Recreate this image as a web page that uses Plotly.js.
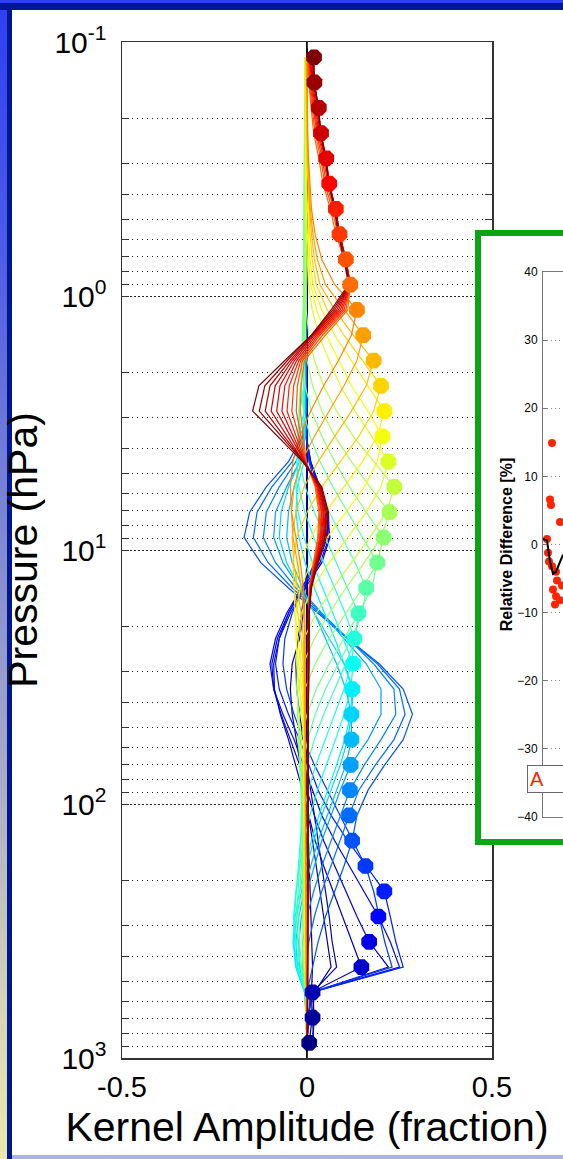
<!DOCTYPE html>
<html>
<head>
<meta charset="utf-8">
<script src="https://cdn.plot.ly/plotly-3.0.1.min.js"></script>
<style>
  html, body { margin: 0; padding: 0; width: 563px; height: 1159px; overflow: hidden; background: #a9b0ec; }
  .band { position: absolute; }
  #topBlue { left: 0; top: 0; width: 563px; height: 4px; background: #2f40f4; }
  #topNavy { left: 0; top: 3px; width: 563px; height: 7px; background: #00188e; }
  #leftStrip { left: 0; top: 0; width: 7px; height: 1159px;
    background: linear-gradient(to bottom, #2e3ef6 0%, #4f5ce6 22%, #7d86d4 45%, #abadc6 68%, #d4d2b8 86%, #ece9ac 100%); }
  #leftNavy { left: 7px; top: 3px; width: 5px; height: 1156px; background: #00188e; }
  #panel { left: 12px; top: 10px; width: 551px; height: 1145px; background: #ffffff; }
  #main { position: absolute; left: 0; top: 0; width: 563px; height: 1159px; }
  #insetBox { position: absolute; left: 475px; top: 230px; width: 194px; height: 603px;
    border: 6px solid #0ba514; background: #ffffff; }
  #inset { position: absolute; left: 0; top: 0; width: 194px; height: 603px; }
</style>
</head>
<body>
<div class="band" id="leftStrip"></div>
<div class="band" id="topBlue"></div>
<div class="band" id="topNavy"></div>
<div class="band" id="leftNavy"></div>
<div class="band" id="panel"></div>
<div id="main"></div>
<div id="insetBox"><div id="inset"></div></div>
<script>
// Retrieval levels (hPa), top of atmosphere first
const pressure = [0.1148,0.1443,0.1816,0.2283,0.2871,0.3610,0.4539,0.5708,0.7178,0.9026,
  1.135,1.427,1.795,2.257,2.838,3.569,4.487,5.643,7.096,8.923,
  11.22,14.11,17.74,22.31,28.05,35.28,44.36,55.78,70.15,88.21,
  110.9,139.5,175.4,220.6,277.3,348.7,438.5,551.4,693.4,871.9];

// Averaging-kernel rows, one per retrieval level (row j peaks near level j)
const ak00 = [0.019,0.02,0.03,0.036,0.05,0.058,0.074,0.084,0.1,0.112,0.065,0.012,-0.06,-0.13,-0.147,-0.08,-0.012,0.04,0.058,0.052,0.03,0.012,0.006,0.005,0.004,0.004,0.003,0.003,0.003,0.003,0.002,0.002,0.002,0.002,0.002,0.002,0.002,0.001,0.001,0.001];
const ak01 = [0.016,0.02,0.031,0.037,0.051,0.059,0.076,0.086,0.102,0.114,0.07,0.012,-0.053,-0.114,-0.129,-0.07,-0.01,0.038,0.055,0.049,0.028,0.011,0.006,0.005,0.004,0.004,0.003,0.003,0.003,0.003,0.002,0.002,0.002,0.002,0.002,0.002,0.002,0.001,0.001,0.001];
const ak02 = [0.014,0.018,0.032,0.037,0.051,0.059,0.076,0.087,0.103,0.115,0.075,0.014,-0.046,-0.1,-0.113,-0.062,-0.009,0.036,0.052,0.047,0.027,0.011,0.006,0.005,0.004,0.004,0.003,0.003,0.003,0.003,0.002,0.002,0.002,0.002,0.002,0.002,0.002,0.001,0.001,0.001];
const ak03 = [0.012,0.016,0.029,0.038,0.052,0.06,0.077,0.088,0.104,0.116,0.08,0.016,-0.04,-0.086,-0.097,-0.053,-0.008,0.034,0.049,0.044,0.026,0.01,0.006,0.005,0.004,0.004,0.003,0.003,0.003,0.003,0.002,0.002,0.002,0.002,0.002,0.002,0.002,0.001,0.001,0.001];
const ak04 = [0.01,0.014,0.026,0.035,0.052,0.06,0.077,0.088,0.104,0.116,0.085,0.02,-0.034,-0.073,-0.082,-0.045,-0.007,0.032,0.046,0.042,0.024,0.01,0.005,0.005,0.004,0.004,0.003,0.003,0.003,0.003,0.002,0.002,0.002,0.002,0.002,0.002,0.002,0.001,0.001,0.001];
const ak05 = [0.008,0.012,0.023,0.032,0.048,0.06,0.077,0.088,0.105,0.117,0.09,0.025,-0.028,-0.06,-0.068,-0.037,-0.006,0.03,0.044,0.039,0.023,0.009,0.005,0.004,0.004,0.003,0.003,0.003,0.003,0.002,0.002,0.002,0.002,0.002,0.002,0.002,0.001,0.001,0.001,0.001];
const ak06 = [0.006,0.01,0.02,0.029,0.045,0.056,0.078,0.088,0.105,0.117,0.095,0.03,-0.022,-0.048,-0.054,-0.03,-0.005,0.028,0.041,0.036,0.021,0.008,0.005,0.004,0.004,0.003,0.003,0.003,0.003,0.002,0.002,0.002,0.002,0.002,0.002,0.002,0.001,0.001,0.001,0.001];
const ak07 = [0.005,0.008,0.017,0.026,0.041,0.052,0.073,0.088,0.105,0.117,0.1,0.035,-0.017,-0.036,-0.041,-0.022,-0.004,0.026,0.038,0.034,0.02,0.008,0.005,0.004,0.003,0.003,0.003,0.003,0.002,0.002,0.002,0.002,0.002,0.002,0.002,0.001,0.001,0.001,0.001,0.001];
const ak08 = [0.004,0.006,0.014,0.022,0.037,0.048,0.068,0.083,0.105,0.117,0.105,0.042,-0.012,-0.026,-0.029,-0.016,-0.003,0.024,0.035,0.031,0.018,0.007,0.004,0.004,0.003,0.003,0.003,0.003,0.002,0.002,0.002,0.002,0.002,0.002,0.002,0.001,0.001,0.001,0.001,0.001];
const ak09 = [0.003,0.005,0.011,0.018,0.032,0.043,0.063,0.078,0.1,0.117,0.11,0.05,-0.007,-0.016,-0.018,-0.01,-0.002,0.022,0.032,0.029,0.017,0.006,0.004,0.004,0.003,0.003,0.003,0.002,0.002,0.002,0.002,0.002,0.002,0.002,0.001,0.001,0.001,0.001,0.001,0.001];
const ak10 = [0,0,0.001,0.002,0.004,0.007,0.012,0.022,0.04,0.075,0.135,0.12,0.085,0.045,0.01,-0.02,-0.038,-0.045,-0.042,-0.03,-0.018,-0.01,-0.006,-0.005,-0.005,-0.004,-0.004,-0.004,-0.003,-0.003,-0.003,-0.003,-0.003,-0.003,-0.002,-0.002,-0.002,-0.002,-0.001,-0.001];
const ak11 = [0,0,0,0.001,0.003,0.005,0.009,0.016,0.028,0.05,0.1,0.152,0.135,0.1,0.06,0.02,-0.015,-0.035,-0.042,-0.038,-0.026,-0.015,-0.009,-0.006,-0.006,-0.005,-0.005,-0.004,-0.004,-0.004,-0.003,-0.003,-0.003,-0.003,-0.003,-0.002,-0.002,-0.002,-0.001,-0.001];
const ak12 = [-0.002,-0.002,-0.001,0,0.002,0.004,0.007,0.012,0.02,0.035,0.075,0.125,0.18,0.16,0.12,0.075,0.03,-0.008,-0.03,-0.04,-0.036,-0.026,-0.016,-0.01,-0.007,-0.006,-0.006,-0.005,-0.005,-0.005,-0.004,-0.004,-0.004,-0.003,-0.003,-0.003,-0.002,-0.002,-0.001,-0.001];
const ak13 = [-0.003,-0.003,-0.002,-0.001,0,0.002,0.004,0.008,0.014,0.025,0.055,0.1,0.15,0.2,0.18,0.14,0.09,0.04,0,-0.028,-0.038,-0.035,-0.025,-0.016,-0.01,-0.008,-0.007,-0.007,-0.006,-0.006,-0.005,-0.005,-0.005,-0.004,-0.004,-0.004,-0.003,-0.002,-0.001,-0.001];
const ak14 = [-0.004,-0.004,-0.004,-0.003,-0.002,-0.001,0.001,0.004,0.008,0.016,0.04,0.075,0.12,0.165,0.209,0.19,0.15,0.1,0.05,0.01,-0.02,-0.034,-0.033,-0.025,-0.016,-0.011,-0.009,-0.008,-0.008,-0.007,-0.007,-0.006,-0.006,-0.005,-0.005,-0.005,-0.004,-0.002,-0.001,-0.001];
const ak15 = [-0.005,-0.005,-0.005,-0.004,-0.004,-0.003,-0.002,0,0.004,0.01,0.026,0.052,0.085,0.12,0.165,0.204,0.19,0.155,0.105,0.055,0.012,-0.018,-0.03,-0.03,-0.022,-0.014,-0.01,-0.008,-0.008,-0.007,-0.007,-0.007,-0.006,-0.006,-0.006,-0.005,-0.005,-0.002,-0.001,-0.001];
const ak16 = [-0.005,-0.005,-0.005,-0.005,-0.005,-0.004,-0.003,-0.002,0,0.004,0.014,0.032,0.06,0.09,0.13,0.175,0.22,0.2,0.16,0.11,0.06,0.015,-0.015,-0.028,-0.028,-0.02,-0.013,-0.009,-0.008,-0.008,-0.007,-0.007,-0.007,-0.006,-0.006,-0.006,-0.005,-0.002,-0.001,-0.001];
const ak17 = [-0.004,-0.004,-0.004,-0.004,-0.004,-0.004,-0.004,-0.004,-0.004,-0.004,-0.002,0.005,0.02,0.045,0.08,0.125,0.18,0.236,0.215,0.17,0.12,0.07,0.025,-0.008,-0.025,-0.028,-0.022,-0.015,-0.01,-0.009,-0.008,-0.008,-0.008,-0.008,-0.008,-0.007,-0.006,-0.002,-0.001,-0.001];
const ak18 = [-0.005,-0.005,-0.005,-0.005,-0.005,-0.005,-0.005,-0.006,-0.006,-0.006,-0.006,-0.004,0,0.015,0.04,0.075,0.12,0.17,0.223,0.2,0.155,0.105,0.06,0.02,-0.01,-0.024,-0.026,-0.02,-0.014,-0.01,-0.009,-0.009,-0.009,-0.009,-0.009,-0.008,-0.007,-0.002,-0.001,-0.001];
const ak19 = [-0.006,-0.006,-0.006,-0.006,-0.006,-0.006,-0.006,-0.006,-0.006,-0.006,-0.006,-0.008,-0.01,-0.005,0.012,0.04,0.075,0.115,0.16,0.207,0.19,0.15,0.105,0.06,0.022,-0.006,-0.02,-0.024,-0.018,-0.012,-0.01,-0.01,-0.01,-0.01,-0.01,-0.009,-0.008,-0.003,-0.001,-0.001];
const ak20 = [-0.006,-0.006,-0.006,-0.006,-0.006,-0.007,-0.007,-0.008,-0.008,-0.009,-0.01,-0.012,-0.014,-0.016,-0.01,0.008,0.035,0.07,0.11,0.15,0.19,0.175,0.14,0.1,0.06,0.025,0,-0.016,-0.02,-0.016,-0.012,-0.012,-0.012,-0.013,-0.014,-0.013,-0.011,-0.003,-0.001,0];
const ak21 = [-0.006,-0.006,-0.006,-0.007,-0.007,-0.007,-0.008,-0.008,-0.008,-0.008,-0.008,-0.008,-0.008,-0.018,-0.022,-0.018,-0.002,0.025,0.06,0.095,0.13,0.16,0.15,0.12,0.085,0.05,0.022,0.002,-0.012,-0.016,-0.014,-0.012,-0.015,-0.02,-0.022,-0.02,-0.015,-0.004,-0.002,0];
const ak22 = [-0.006,-0.006,-0.006,-0.007,-0.007,-0.007,-0.008,-0.008,-0.008,-0.008,-0.008,-0.008,-0.008,-0.008,-0.02,-0.025,-0.02,-0.005,0.02,0.05,0.08,0.11,0.139,0.13,0.105,0.075,0.045,0.02,0,-0.012,-0.016,-0.016,-0.02,-0.025,-0.028,-0.025,-0.018,-0.004,-0.002,0];
const ak23 = [-0.006,-0.006,-0.006,-0.007,-0.007,-0.007,-0.008,-0.008,-0.008,-0.008,-0.008,-0.008,-0.008,-0.008,-0.008,-0.022,-0.028,-0.022,-0.006,0.018,0.045,0.075,0.103,0.128,0.12,0.1,0.075,0.048,0.024,0.004,-0.01,-0.018,-0.024,-0.03,-0.034,-0.03,-0.022,-0.005,-0.002,0];
const ak24 = [-0.006,-0.006,-0.006,-0.007,-0.007,-0.007,-0.008,-0.008,-0.008,-0.008,-0.008,-0.008,-0.008,-0.008,-0.008,-0.008,-0.024,-0.03,-0.024,-0.008,0.015,0.042,0.07,0.098,0.125,0.118,0.1,0.077,0.052,0.028,0.008,-0.008,-0.02,-0.03,-0.036,-0.035,-0.026,-0.006,-0.002,0];
const ak25 = [-0.006,-0.006,-0.006,-0.007,-0.007,-0.007,-0.008,-0.008,-0.008,-0.008,-0.008,-0.008,-0.008,-0.008,-0.008,-0.008,-0.008,-0.026,-0.03,-0.022,-0.005,0.02,0.048,0.075,0.1,0.122,0.118,0.102,0.08,0.056,0.032,0.012,-0.006,-0.02,-0.032,-0.038,-0.03,-0.007,-0.002,0];
const ak26 = [-0.006,-0.006,-0.006,-0.006,-0.006,-0.006,-0.006,-0.006,-0.006,-0.006,-0.006,-0.006,-0.006,-0.006,-0.006,-0.006,-0.02,-0.05,-0.07,-0.075,-0.055,-0.02,0.02,0.06,0.1,0.125,0.12,0.11,0.09,0.065,0.04,0.018,0,-0.015,-0.028,-0.035,-0.03,-0.006,-0.002,0];
const ak27 = [-0.005,-0.005,-0.005,-0.005,-0.005,-0.005,-0.005,-0.005,-0.005,-0.005,-0.005,-0.005,-0.005,-0.005,-0.005,-0.005,-0.015,-0.035,-0.05,-0.055,-0.04,-0.012,0.02,0.05,0.08,0.105,0.12,0.12,0.105,0.08,0.055,0.03,0.01,-0.008,-0.022,-0.03,-0.026,-0.005,-0.002,0];
const ak28 = [-0.004,-0.004,-0.004,-0.004,-0.004,-0.004,-0.004,-0.004,-0.004,-0.004,-0.004,-0.004,-0.004,-0.004,-0.004,-0.004,-0.02,-0.055,-0.085,-0.09,-0.065,-0.02,0.04,0.1,0.16,0.2,0.2,0.165,0.118,0.09,0.065,0.04,0.02,0,-0.015,-0.022,-0.02,-0.004,-0.001,0];
const ak29 = [-0.004,-0.004,-0.004,-0.004,-0.004,-0.004,-0.004,-0.004,-0.004,-0.004,-0.004,-0.004,-0.004,-0.004,-0.004,-0.004,-0.03,-0.075,-0.11,-0.118,-0.085,-0.03,0.04,0.11,0.18,0.235,0.24,0.2,0.155,0.116,0.09,0.065,0.04,0.018,0,-0.012,-0.012,-0.002,0,0];
const ak30 = [-0.003,-0.003,-0.003,-0.003,-0.003,-0.003,-0.003,-0.003,-0.003,-0.003,-0.003,-0.003,-0.003,-0.003,-0.003,-0.01,-0.04,-0.095,-0.135,-0.145,-0.105,-0.04,0.035,0.11,0.19,0.25,0.265,0.235,0.185,0.14,0.114,0.09,0.065,0.04,0.02,0.005,-0.002,0,0,0];
const ak31 = [-0.002,-0.002,-0.002,-0.002,-0.002,-0.002,-0.002,-0.002,-0.002,-0.002,-0.002,-0.002,-0.002,-0.002,-0.002,-0.012,-0.05,-0.11,-0.155,-0.17,-0.125,-0.05,0.03,0.11,0.195,0.26,0.285,0.26,0.21,0.165,0.135,0.122,0.1,0.075,0.05,0.03,0.015,0,0,0];
const ak32 = [-0.002,-0.002,-0.002,-0.002,-0.002,-0.002,-0.002,-0.002,-0.002,-0.002,-0.002,-0.002,-0.002,-0.002,-0.002,-0.002,0.005,0.025,0.04,0.038,0.02,-0.01,-0.04,-0.06,-0.065,-0.055,-0.035,-0.01,0.02,0.055,0.09,0.125,0.158,0.18,0.195,0.21,0.23,0.01,0.004,0];
const ak33 = [-0.002,-0.002,-0.002,-0.002,-0.002,-0.002,-0.002,-0.002,-0.002,-0.002,-0.002,-0.002,-0.002,-0.002,-0.002,-0.002,0.008,0.032,0.05,0.048,0.025,-0.015,-0.05,-0.075,-0.085,-0.075,-0.05,-0.02,0.005,0.03,0.065,0.11,0.16,0.209,0.225,0.24,0.26,0.012,0.004,0];
const ak34 = [-0.002,-0.002,-0.002,-0.002,-0.002,-0.002,-0.002,-0.002,-0.002,-0.002,-0.002,-0.002,-0.002,-0.002,-0.002,-0.002,0.01,0.035,0.055,0.055,0.03,-0.015,-0.055,-0.085,-0.1,-0.09,-0.065,-0.035,-0.01,0.015,0.04,0.075,0.115,0.155,0.193,0.225,0.25,0.012,0.004,0];
const ak35 = [-0.002,-0.002,-0.002,-0.002,-0.002,-0.002,-0.002,-0.002,-0.002,-0.002,-0.002,-0.002,-0.002,-0.002,-0.002,-0.002,0.01,0.035,0.058,0.06,0.035,-0.01,-0.05,-0.08,-0.095,-0.09,-0.07,-0.045,-0.02,0,0.02,0.045,0.075,0.105,0.135,0.168,0.22,0.012,0.004,0];
const ak36 = [-0.002,-0.002,-0.002,-0.002,-0.002,-0.002,-0.002,-0.002,-0.002,-0.002,-0.002,-0.002,-0.002,-0.002,-0.002,-0.002,0.008,0.03,0.052,0.062,0.04,-0.005,-0.045,-0.075,-0.09,-0.088,-0.072,-0.05,-0.03,-0.012,0.005,0.022,0.045,0.07,0.095,0.12,0.147,0.012,0.004,0];
const ak37 = [0,0,0,0,0,0,0,0,0,0,0,0,0,0,0,0,0,0,0,0,0,-0.005,-0.015,-0.025,-0.03,-0.028,-0.02,-0.01,0,0.012,0.022,0.032,0.042,0.052,0.06,0.068,0.08,0.015,0.02,0.015];
const ak38 = [0,0,0,0,0,0,0,0,0,0,0,0,0,0,0,0,0,0,0,0,0,0,-0.01,-0.02,-0.04,-0.045,-0.04,-0.03,-0.018,-0.006,0.005,0.015,0.025,0.035,0.045,0.055,0.065,0.02,0.015,0.018];
const ak39 = [0,0,0,0,0,0,0,0,0,0,0,0,0,0,0,0,0,0,0,0,0,0,0,0,0,0,0,0,0,0,0.002,0.004,0.006,0.008,0.01,0.012,0.015,0.012,0.014,0.006];

const kernels = [ak00,ak01,ak02,ak03,ak04,ak05,ak06,ak07,ak08,ak09,ak10,ak11,ak12,ak13,ak14,ak15,ak16,ak17,ak18,ak19,
  ak20,ak21,ak22,ak23,ak24,ak25,ak26,ak27,ak28,ak29,ak30,ak31,ak32,ak33,ak34,ak35,ak36,ak37,ak38,ak39];

const xTickVals = [-0.5, 0, 0.5];
const xTickText = ['-0.5', '0', '0.5'];
const yTickVals = [0.1, 1, 10, 100, 1000];
const yTickText = ['10<sup>-1</sup>', '10<sup>0</sup>', '10<sup>1</sup>', '10<sup>2</sup>', '10<sup>3</sup>'];
const yMinorVals = [0.2,0.3,0.4,0.5,0.6,0.7,0.8,0.9, 2,3,4,5,6,7,8,9, 20,30,40,50,60,70,80,90, 200,300,400,500,600,700,800,900];

// Relative difference panel
const diffX = [4.5, 3.5, 4, 8.5, 2, 2.5, 3, 4.5, 6.5, 7, 5, 6.5, 8.5, 6, 9.5];
const diffY = [14.9, 6.6, 5.8, 3.3, 0.8, -1.2, -2.5, -3.2, -4.0, -5.3, -6.6, -7.6, -8.2, -8.8, -6.0];
const meanX = [0, 2, 3.5, 5, 6.5, 8, 10];
const meanY = [0.8, 0.6, -2.5, -4.3, -4.0, -3.0, -1.5];
const diffTicks = [-40, -30, -20, -10, 0, 10, 20, 30, 40];

const FONT = 'Liberation Sans, Arial, Helvetica, sans-serif';

function jet(t) {
  const c = v => Math.round(255 * Math.max(0, Math.min(1, v)));
  return 'rgb(' + c(1.5 - Math.abs(4 * t - 3)) + ',' + c(1.5 - Math.abs(4 * t - 2)) + ',' + c(1.5 - Math.abs(4 * t - 1)) + ')';
}
const n = kernels.length;
const colorOf = j => jet(1 - j / (n - 1));

const traces = [];
for (let j = n - 1; j >= 0; j--) {
  traces.push({
    type: 'scatter', mode: 'lines', x: kernels[j], y: pressure,
    line: { color: colorOf(j), width: 1.2 }, hoverinfo: 'skip'
  });
}
traces.push({
  type: 'scatter', mode: 'markers',
  x: kernels.map((row, j) => row[j]), y: pressure,
  marker: { symbol: 'octagon', size: 17, color: kernels.map((r, j) => colorOf(j)), line: { width: 0 } },
  hoverinfo: 'skip'
});

const layout = {
  width: 563, height: 1159,
  margin: { l: 122, r: 0, t: 42, b: 101 },
  paper_bgcolor: 'rgba(0,0,0,0)', plot_bgcolor: 'rgba(0,0,0,0)',
  showlegend: false,
  font: { family: FONT, color: '#000' },
  xaxis: {
    domain: [0, 370 / 441], range: [-0.5, 0.5],
    tickmode: 'array', tickvals: xTickVals, ticktext: xTickText,
    ticks: 'inside', ticklen: 6, tickcolor: '#333',
    showline: true, mirror: 'ticks', linecolor: '#333', linewidth: 1.5,
    zeroline: true, zerolinecolor: '#111', zerolinewidth: 1.2,
    showgrid: false,
    tickfont: { size: 29, family: FONT, color: '#000' }, ticklabelstandoff: 3,
    title: { text: 'Kernel Amplitude (fraction)', font: { size: 41, family: FONT, color: '#000' }, standoff: 10 }
  },
  yaxis: {
    type: 'log', range: [3, -1],
    tickmode: 'array', tickvals: yTickVals, ticktext: yTickText,
    ticks: 'inside', ticklen: 7, tickcolor: '#333',
    showline: true, mirror: 'ticks', linecolor: '#333', linewidth: 1.5,
    zeroline: false,
    showgrid: true, gridcolor: '#222', gridwidth: 1, griddash: '2px,2px',
    minor: { tickmode: 'array', tickvals: yMinorVals, ticks: 'inside', ticklen: 7, tickcolor: '#333',
             showgrid: true, gridcolor: '#222', gridwidth: 1, griddash: '1px,4px' },
    tickfont: { size: 30, family: FONT, color: '#000' }, ticklabelstandoff: 8,
    title: { text: 'Pressure (hPa)', font: { size: 41, family: FONT, color: '#000' }, standoff: 19 }
  }
};

Plotly.newPlot('main', traces, layout, { staticPlot: true, displayModeBar: false });

const insetTraces = [
  { type: 'scatter', mode: 'markers', x: diffX, y: diffY,
    marker: { color: '#ff2400', size: 8, line: { width: 0 } }, hoverinfo: 'skip' },
  { type: 'scatter', mode: 'lines', x: meanX, y: meanY,
    line: { color: '#000', width: 2 }, hoverinfo: 'skip' }
];
const insetLayout = {
  width: 194, height: 603,
  margin: { l: 62, r: 20, t: 36, b: 22 },
  paper_bgcolor: '#fff', plot_bgcolor: '#fff', showlegend: false,
  font: { family: FONT, color: '#000' },
  xaxis: { range: [0, 56], showline: true, mirror: true, linecolor: '#777', linewidth: 1,
           showgrid: false, zeroline: false, showticklabels: false, ticks: '' },
  yaxis: { range: [-40, 40], tickmode: 'array', tickvals: diffTicks,
           ticks: 'inside', ticklen: 4, tickcolor: '#777',
           showline: true, linecolor: '#777', linewidth: 1,
           showgrid: true, gridcolor: '#888', gridwidth: 1, griddash: '1px,3px', zeroline: false,
           tickfont: { size: 12, family: FONT, color: '#000' }, ticklabelstandoff: 2,
           title: { text: '<b>Relative Difference [%]</b>', font: { size: 16, family: FONT, color: '#000' }, standoff: 0 } },
  annotations: [{
    xref: 'paper', yref: 'paper', x: -16 / 112, y: 38 / 545, xanchor: 'left', yanchor: 'middle',
    text: 'A', width: 80, align: 'left', font: { color: '#ff2400', size: 20, family: FONT }, showarrow: false,
    bordercolor: '#666', borderwidth: 1, borderpad: 2, bgcolor: '#fff'
  }]
};
Plotly.newPlot('inset', insetTraces, insetLayout, { staticPlot: true, displayModeBar: false });
</script>
</body>
</html>
